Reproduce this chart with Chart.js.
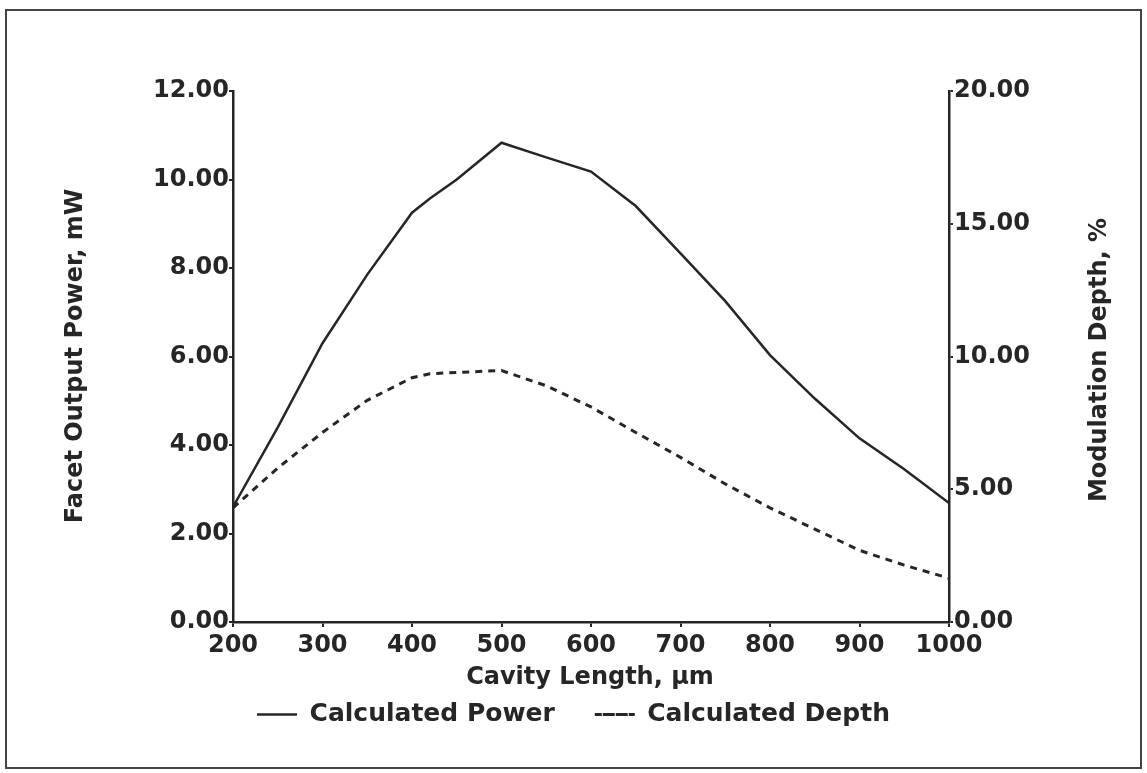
<!DOCTYPE html>
<html lang="en">
<head>
  <meta charset="UTF-8" />
  <title>Facet Output Power and Modulation Depth</title>
  <script src="https://cdn.jsdelivr.net/npm/chart.js"></script>
  <style>
    body {
      margin: 0;
      background: white;
    }
    .frame {
      position: absolute;
      left: 5px;
      top: 9px;
      width: 1133px;
      height: 756px;
      border: 2px solid #444;
    }
    .wrap {
      position: absolute;
      left: 0;
      top: 0;
      width: 1147px;
      height: 773px;
    }
  </style>
</head>
<body>
  <div class="frame"></div>
  <div class="wrap"><canvas id="chart"></canvas></div>

  <script>
    // cavity length, um
    const cavityLength = [200, 250, 300, 350, 400, 420, 450, 500, 550, 600, 650, 700, 750, 800, 850, 900, 950, 1000];
    // facet output power, mW (left axis)
    const power = [2.6, 4.4, 6.3, 7.85, 9.25, 9.57, 10.0, 10.83, 10.5, 10.18, 9.4, 8.33, 7.25, 6.03, 5.05, 4.15, 3.45, 2.69];
    // modulation depth, % (right axis)
    const depth = [4.3, 5.8, 7.14, 8.35, 9.2, 9.35, 9.4, 9.47, 8.9, 8.1, 7.14, 6.2, 5.2, 4.3, 3.5, 2.7, 2.14, 1.65];

    const xTicks = [200, 300, 400, 500, 600, 700, 800, 900, 1000];
    const powerTicks = [0, 2, 4, 6, 8, 10, 12];
    const depthTicks = [0, 5, 10, 15, 20];

    const ink = "#262626";
    const font = { family: "DejaVu Sans", size: 24, weight: "bold" };

    // axis titles drawn by hand so the right one reads bottom-to-top like the original
    const titles = {
      id: "titles",
      afterDraw(chart) {
        const ctx = chart.ctx;
        ctx.save();
        ctx.fillStyle = ink;
        ctx.font = "bold 24px 'DejaVu Sans'";
        ctx.textAlign = "center";
        ctx.textBaseline = "middle";
        ctx.fillText("Cavity Length, \u03bcm", 590, 678);
        ctx.translate(76, 356);
        ctx.rotate(-Math.PI / 2);
        ctx.fillText("Facet Output Power, mW", 0, 0);
        ctx.restore();
        ctx.save();
        ctx.fillStyle = ink;
        ctx.font = "bold 24px 'DejaVu Sans'";
        ctx.textAlign = "center";
        ctx.textBaseline = "middle";
        ctx.translate(1100, 360);
        ctx.rotate(-Math.PI / 2);
        ctx.fillText("Modulation Depth, %", 0, 0);
        ctx.restore();
      },
    };

    new Chart(document.getElementById("chart"), {
      type: "line",
      data: {
        datasets: [
          {
            label: "Calculated Power",
            data: cavityLength.map((x, i) => ({ x: x, y: power[i] })),
            yAxisID: "y",
            borderColor: ink,
            backgroundColor: "transparent",
            borderWidth: 2.5,
            pointRadius: 0,
            tension: 0,
          },
          {
            label: "Calculated Depth",
            data: cavityLength.map((x, i) => ({ x: x, y: depth[i] })),
            yAxisID: "y1",
            borderColor: ink,
            backgroundColor: "transparent",
            borderWidth: 3,
            borderDash: [7, 6],
            pointRadius: 0,
            tension: 0,
          },
        ],
      },
      options: {
        responsive: true,
        maintainAspectRatio: false,
        animation: false,
        layout: {
          padding: { left: 20, right: 20, top: 91, bottom: 36 },
        },
        plugins: {
          legend: {
            position: "bottom",
            labels: {
              boxWidth: 40,
              boxHeight: 0,
              color: ink,
              font: { family: "DejaVu Sans", size: 25, weight: "bold" },
              padding: 40,
            },
          },
          tooltip: { enabled: false },
        },
        scales: {
          x: {
            type: "linear",
            min: 200,
            max: 1000,
            afterBuildTicks: (s) => { s.ticks = xTicks.map((v) => ({ value: v })); },
            afterFit: (s) => { s.height = 40; },
            ticks: { color: ink, font: font, padding: 4, callback: (v) => String(v) },
            grid: { drawOnChartArea: false, tickLength: 5, color: ink, lineWidth: 2 },
            border: { color: ink, width: 2.5 },
          },
          y: {
            position: "left",
            min: 0,
            max: 12,
            afterBuildTicks: (s) => { s.ticks = powerTicks.map((v) => ({ value: v })); },
            afterFit: (s) => { s.width = 213; },
            ticks: { color: ink, font: font, padding: 0, callback: (v) => v.toFixed(2) },
            grid: { drawOnChartArea: false, tickLength: 4, color: ink, lineWidth: 2 },
            border: { color: ink, width: 2.5 },
          },
          y1: {
            position: "right",
            min: 0,
            max: 20,
            afterBuildTicks: (s) => { s.ticks = depthTicks.map((v) => ({ value: v })); },
            afterFit: (s) => { s.width = 178; },
            ticks: { color: ink, font: font, padding: 1, callback: (v) => v.toFixed(2) },
            grid: { drawOnChartArea: false, tickLength: 4, color: ink, lineWidth: 2 },
            border: { color: ink, width: 2.5 },
          },
        },
      },
      plugins: [titles],
    });
  </script>
</body>
</html>
